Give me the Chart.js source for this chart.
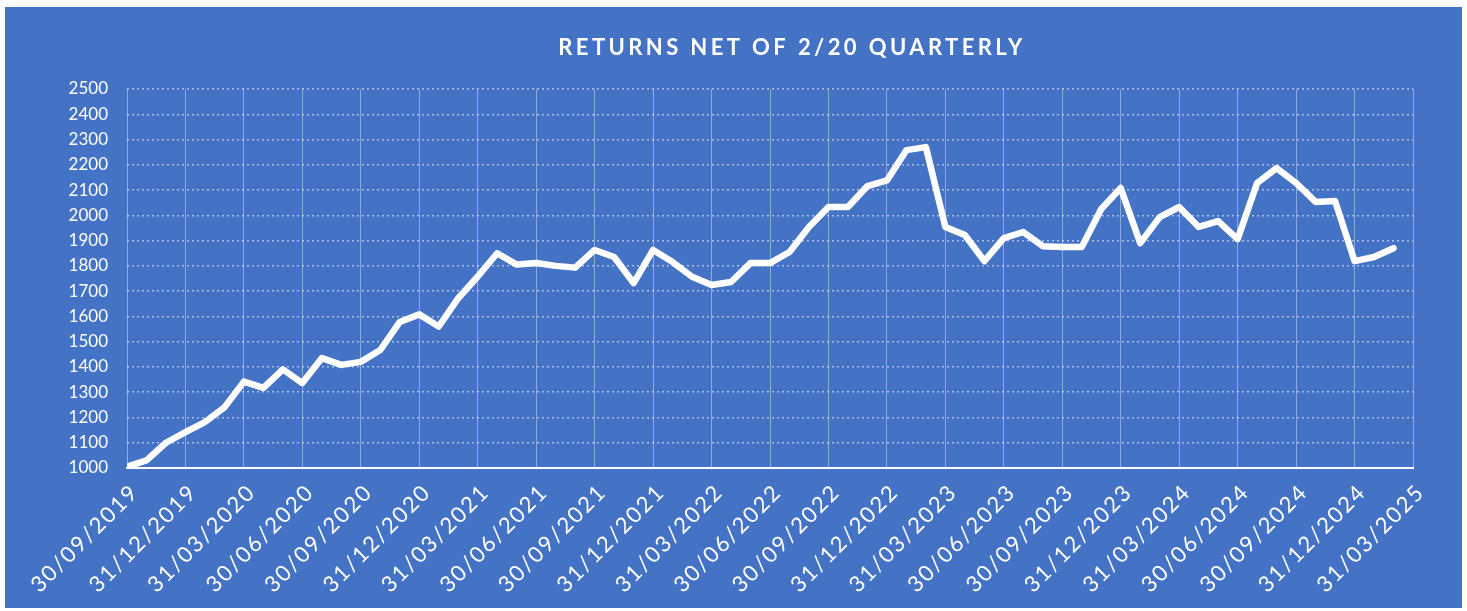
<!DOCTYPE html>
<html>
<head>
<meta charset="utf-8">
<script src="https://cdn.jsdelivr.net/npm/chart.js@4.4.1/dist/chart.umd.min.js"></script>
<style>
  html, body { margin: 0; padding: 0; background: #ffffff; }
  #wrap { position: absolute; left: 5px; top: 7px; width: 1457px; height: 601px; background: #4472c4; }
</style>
</head>
<body>
<div id="wrap"><canvas id="returns-chart"></canvas></div>
<script>
// Quarter-end tick labels (one every 3 months)
const quarterLabels = [
    '30/09/2019', '31/12/2019', '31/03/2020', '30/06/2020', '30/09/2020', '31/12/2020',
    '31/03/2021', '30/06/2021', '30/09/2021', '31/12/2021', '31/03/2022', '30/06/2022',
    '30/09/2022', '31/12/2022', '31/03/2023', '30/06/2023', '30/09/2023', '31/12/2023',
    '31/03/2024', '30/06/2024', '30/09/2024', '31/12/2024', '31/03/2025'
];

// Monthly values, starting 30/09/2019
const monthlyReturns = [
    1005, 1030, 1100, 1142, 1182, 1240, 1342, 1317, 1390, 1336,
    1435, 1408, 1420, 1467, 1578, 1608, 1560, 1672, 1758, 1850,
    1805, 1811, 1800, 1793, 1863, 1835, 1732, 1863, 1815, 1757,
    1724, 1736, 1811, 1811, 1855, 1954, 2033, 2033, 2116, 2138,
    2258, 2270, 1954, 1922, 1819, 1910, 1934, 1878, 1875, 1875,
    2025, 2108, 1890, 1993, 2033, 1954, 1977, 1906, 2128, 2187,
    2128, 2053, 2057, 1819, 1835, 1870
];

const yTicks = { min: 1000, max: 2500, step: 100 };

const titlePlugin = {
    id: 'plotTitle',
    afterLayout(chart) {
        // spaced-out date labels on the x axis
        const xs = chart.scales.x;
        if (xs && !xs._spaced) {
            const orig = xs.drawLabels.bind(xs);
            xs.drawLabels = (area) => {
                chart.ctx.save();
                chart.ctx.letterSpacing = '2px';
                orig(area);
                chart.ctx.restore();
            };
            xs._spaced = true;
        }
    },
    afterDraw(chart) {
        const ctx = chart.ctx;
        ctx.save();
        ctx.fillStyle = '#ffffff';
        ctx.font = 'bold 22px Lato';
        ctx.letterSpacing = '3.4px';
        ctx.textAlign = 'center';
        ctx.textBaseline = 'middle';
        ctx.fillText('RETURNS NET OF 2/20 QUARTERLY', 787, 41);
        ctx.restore();
    }
};

const ctx = document.getElementById('returns-chart').getContext('2d');
new Chart(ctx, {
    type: 'line',
    data: {
        datasets: [{
            data: monthlyReturns.map((v, i) => ({ x: i, y: v })),
            borderColor: '#ffffff',
            borderWidth: 6.5,
            borderJoinStyle: 'round',
            borderCapStyle: 'round',
            pointRadius: 0,
            tension: 0,
            fill: false
        }]
    },
    options: {
        responsive: true,
        maintainAspectRatio: false,
        animation: false,
        layout: { padding: { top: 82, right: 49, bottom: 0, left: 0 } },
        plugins: {
            legend: { display: false },
            tooltip: { enabled: false }
        },
        scales: {
            x: {
                type: 'linear',
                min: 0,
                max: (quarterLabels.length - 1) * 3,
                afterFit: (scale) => { scale.height = 140; },
                afterBuildTicks: (scale) => {
                    scale.ticks = quarterLabels.map((_, i) => ({ value: i * 3 }));
                },
                grid: { color: 'rgba(255,255,255,0.4)', lineWidth: 1, drawTicks: false },
                border: { display: true, color: '#ffffff', width: 2 },
                ticks: {
                    color: '#ffffff',
                    font: { family: 'Lato', size: 22 },
                    minRotation: 45,
                    maxRotation: 45,
                    autoSkip: false,
                    padding: 11,
                    labelOffset: 8,
                    callback: (v) => quarterLabels[Math.round(v / 3)]
                }
            },
            y: {
                min: yTicks.min,
                max: yTicks.max,
                afterFit: (scale) => { scale.width = 122; },
                grid: { color: 'rgba(255,255,255,0.55)', lineWidth: 1.5, drawTicks: false },
                border: { display: false, dash: [2, 3] },
                ticks: {
                    stepSize: yTicks.step,
                    color: '#ffffff',
                    font: { family: 'Lato', size: 17 },
                    padding: 19,
                    callback: (v) => String(v)
                }
            }
        }
    },
    plugins: [titlePlugin]
});
</script>
</body>
</html>
